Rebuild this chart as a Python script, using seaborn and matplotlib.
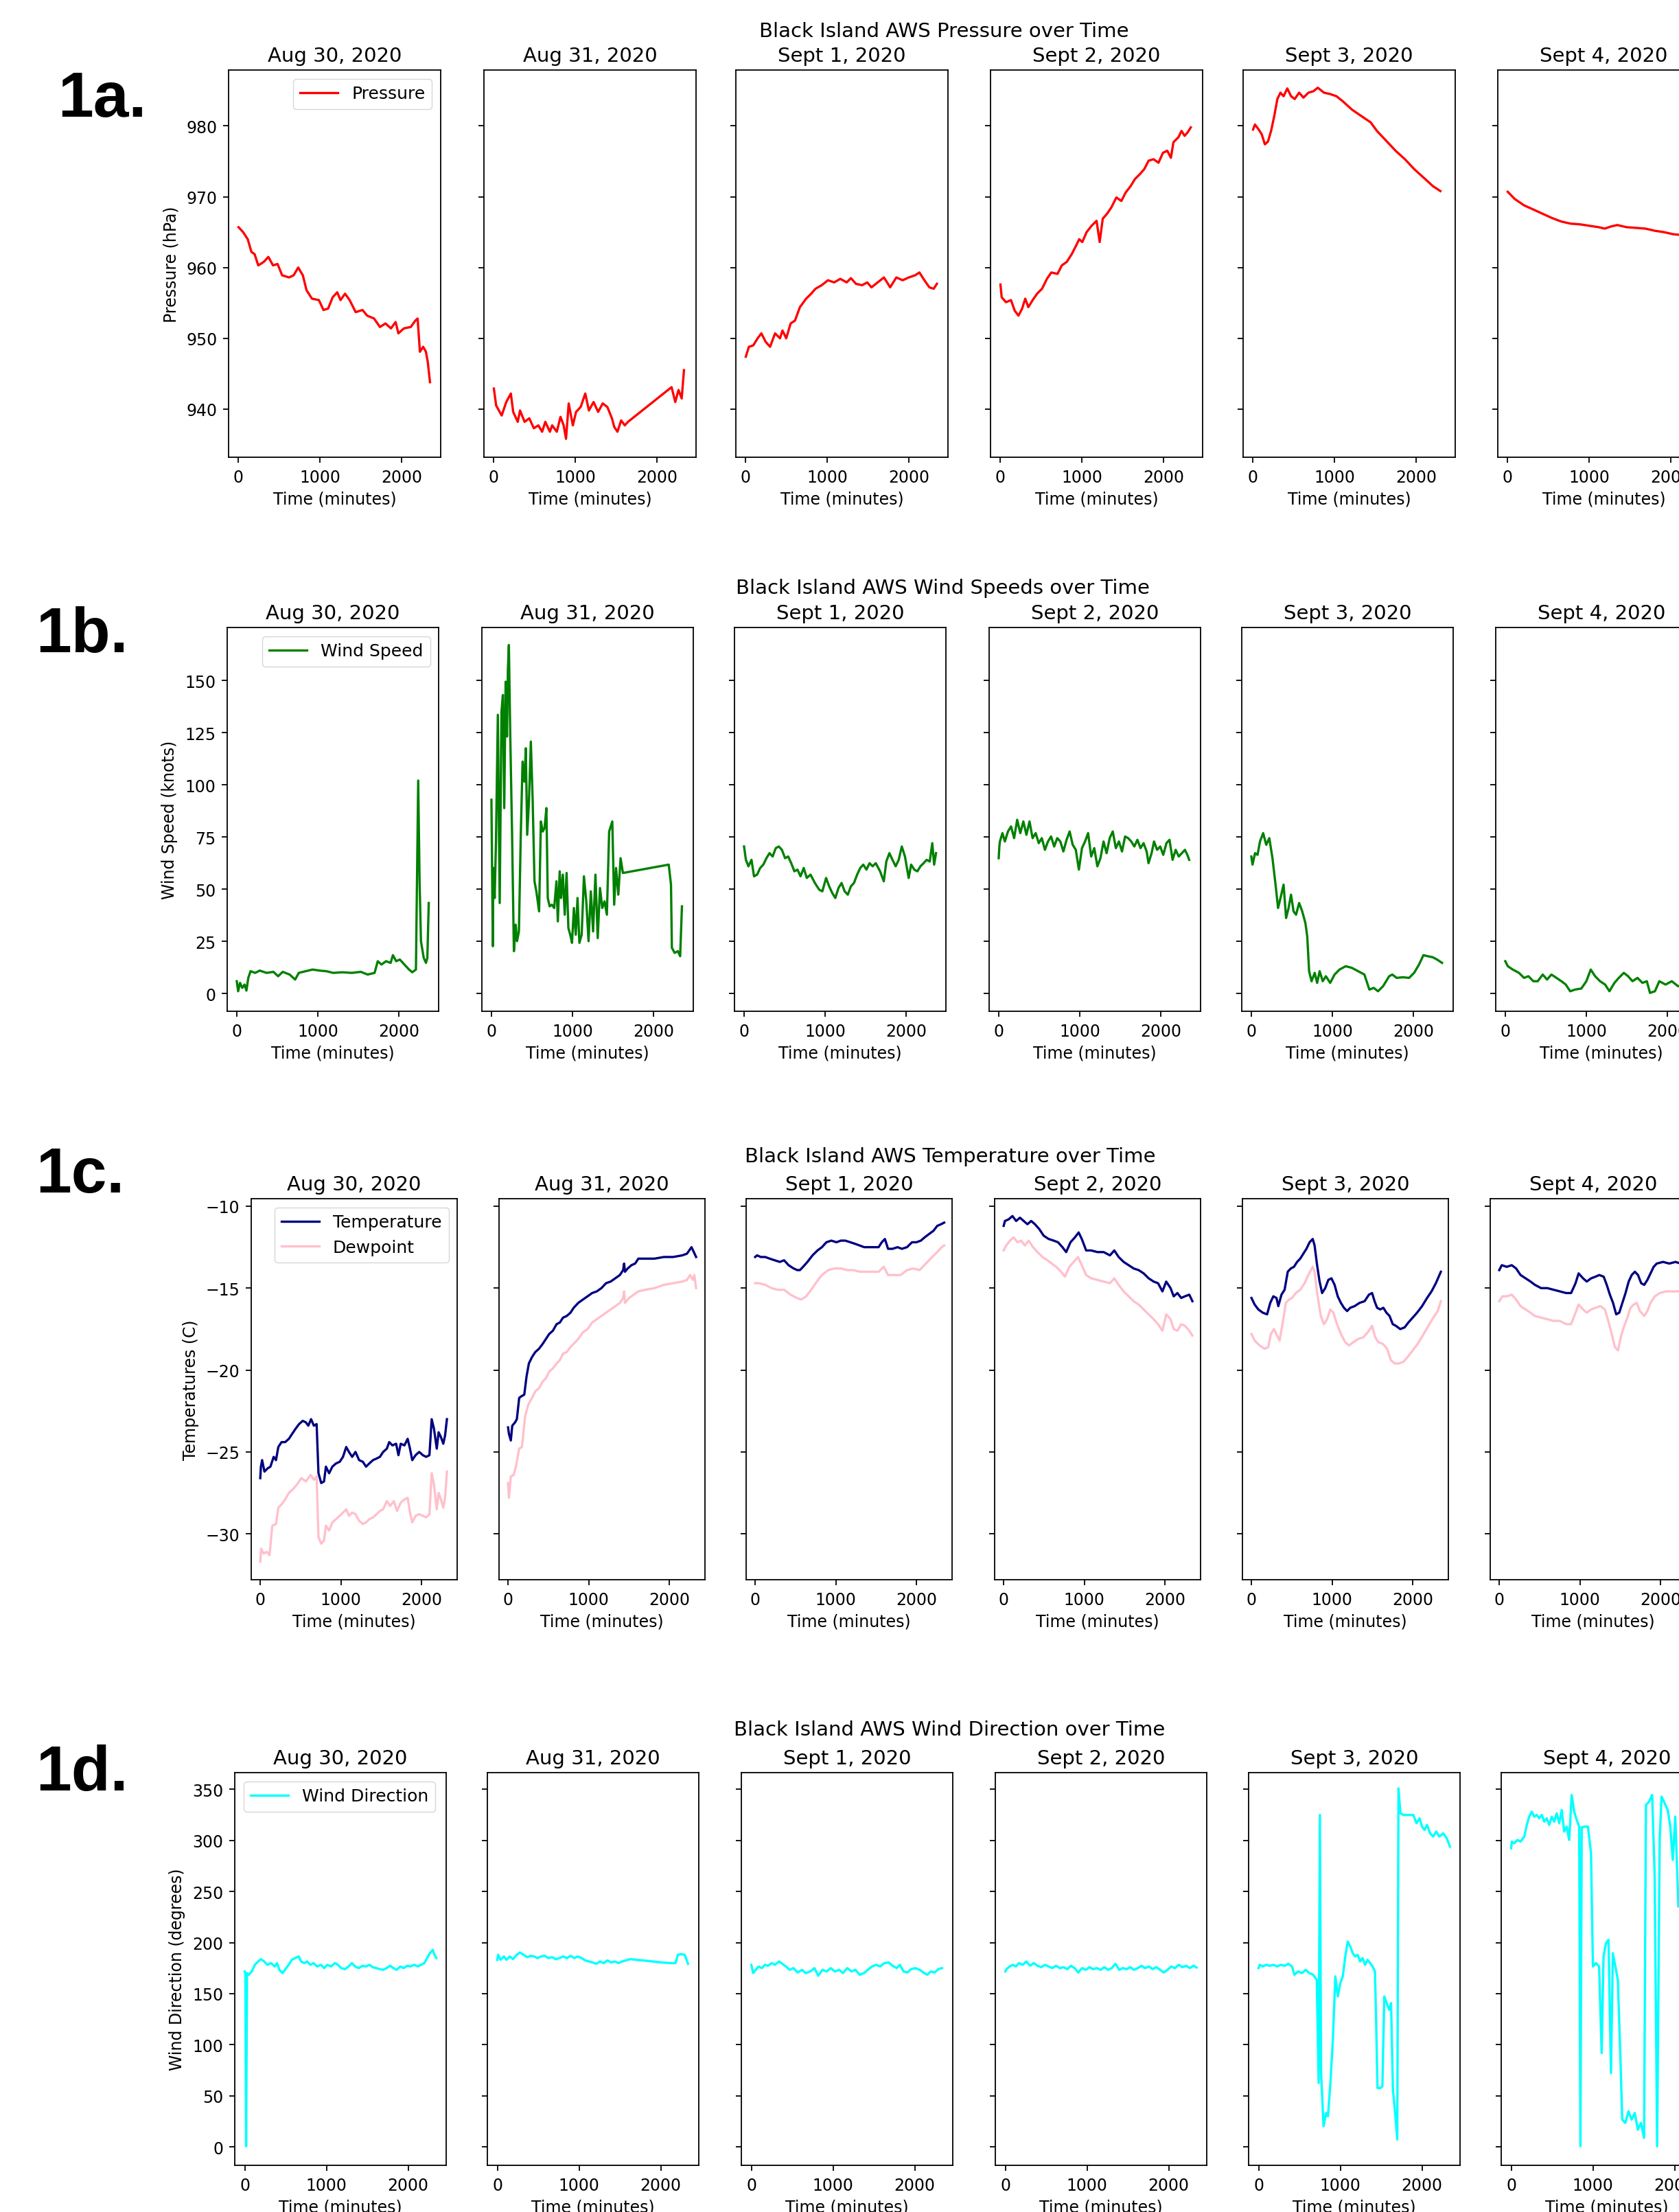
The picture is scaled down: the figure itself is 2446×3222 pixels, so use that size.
import matplotlib
matplotlib.use("Agg")
import matplotlib.pyplot as plt
import seaborn as sns

# ----------------------------
# Data: (minute, value) readings per day
# ----------------------------
DAYS = ["Aug 30, 2020", "Aug 31, 2020", "Sept 1, 2020",
        "Sept 2, 2020", "Sept 3, 2020", "Sept 4, 2020"]

# Pressure (hPa)
pres_aug30 = [(0, 965.7), (56, 965.0), (113, 964.0), (158, 962.2), (197, 961.9), (242, 960.3), (310, 960.8),
              (366, 961.5), (423, 960.3), (479, 960.5), (535, 958.9), (620, 958.6), (676, 958.9), (732, 960.0),
              (789, 958.9), (834, 956.8), (901, 955.6), (986, 955.4), (1042, 954.0), (1099, 954.2), (1155, 955.8),
              (1211, 956.5), (1251, 955.4), (1307, 956.3), (1363, 955.4), (1437, 953.7), (1521, 954.0),
              (1578, 953.2), (1662, 952.8), (1735, 951.6), (1803, 952.1), (1870, 951.4), (1927, 952.3),
              (1961, 950.7), (2028, 951.4), (2113, 951.6), (2169, 952.5), (2197, 952.8), (2225, 948.1),
              (2265, 948.8), (2299, 948.1), (2321, 946.7), (2349, 943.8)]
pres_aug31 = [(0, 942.9), (28, 940.5), (96, 939.1), (152, 941.0), (208, 942.2), (237, 939.6), (293, 938.2),
              (321, 939.8), (377, 938.2), (434, 938.7), (490, 937.3), (546, 937.7), (592, 936.8), (631, 938.2),
              (687, 936.8), (715, 937.7), (772, 936.8), (817, 938.9), (856, 937.7), (885, 935.8), (918, 940.8),
              (969, 937.7), (1008, 939.6), (1065, 940.3), (1121, 942.2), (1166, 939.8), (1223, 941.0),
              (1279, 939.6), (1335, 940.8), (1392, 940.3), (1448, 938.7), (1476, 937.5), (1516, 936.8),
              (1561, 938.4), (1606, 937.7), (1645, 938.2), (2180, 943.1), (2225, 941.0), (2265, 942.7),
              (2304, 941.5), (2332, 945.5)]
pres_sep1 = [(0, 947.4), (38, 948.8), (92, 949.0), (145, 950.0), (191, 950.7), (244, 949.5), (298, 948.8),
             (359, 950.7), (420, 950.0), (450, 951.1), (496, 950.0), (550, 952.1), (603, 952.5), (664, 954.4),
             (740, 955.6), (802, 956.3), (855, 957.0), (931, 957.5), (1008, 958.2), (1084, 957.9), (1160, 958.4),
             (1237, 957.9), (1290, 958.5), (1351, 957.7), (1428, 957.5), (1489, 957.9), (1542, 957.2),
             (1618, 957.9), (1695, 958.6), (1771, 957.2), (1847, 958.6), (1924, 958.2), (2000, 958.6),
             (2076, 958.9), (2130, 959.3), (2191, 958.2), (2252, 957.2), (2305, 957.0), (2344, 957.7)]
pres_sep2 = [(0, 957.6), (15, 955.8), (68, 955.1), (129, 955.4), (175, 953.9), (221, 953.2), (266, 954.2),
             (304, 955.6), (342, 954.4), (395, 955.4), (449, 956.3), (510, 957.0), (570, 958.4), (624, 959.3),
             (700, 959.1), (753, 960.3), (814, 960.8), (875, 961.9), (928, 963.1), (966, 964.0), (1004, 963.6),
             (1057, 965.0), (1118, 965.9), (1179, 966.6), (1217, 963.6), (1255, 966.9), (1308, 967.6),
             (1361, 968.5), (1422, 969.9), (1483, 969.4), (1536, 970.6), (1597, 971.5), (1650, 972.5),
             (1711, 973.2), (1764, 973.9), (1818, 975.1), (1878, 975.3), (1939, 974.8), (1993, 976.2),
             (2046, 976.5), (2091, 975.5), (2122, 977.7), (2183, 978.4), (2221, 979.3), (2259, 978.6),
             (2297, 979.1), (2335, 979.8)]
pres_sep3 = [(0, 979.5), (23, 980.2), (69, 979.5), (107, 978.8), (145, 977.4), (183, 977.8), (221, 979.3),
             (260, 981.4), (298, 983.8), (336, 984.7), (374, 984.2), (420, 985.3), (466, 984.2), (511, 983.8),
             (565, 984.7), (618, 984.0), (679, 984.7), (740, 984.9), (794, 985.4), (870, 984.7), (947, 984.5),
             (1023, 984.2), (1099, 983.5), (1214, 982.3), (1328, 981.4), (1443, 980.5), (1519, 979.3),
             (1634, 977.9), (1748, 976.5), (1863, 975.3), (1977, 973.9), (2092, 972.7), (2206, 971.5),
             (2298, 970.8)]
pres_sep4 = [(0, 970.7), (84, 969.7), (198, 968.8), (313, 968.2), (427, 967.6), (542, 967.0), (656, 966.5),
             (771, 966.2), (886, 966.1), (1000, 965.9), (1115, 965.7), (1191, 965.5), (1267, 965.8),
             (1344, 966.0), (1458, 965.7), (1573, 965.6), (1687, 965.5), (1802, 965.2), (1916, 965.0),
             (2031, 964.7), (2130, 964.6), (2250, 964.3)]

# Wind speed (knots)
wspd_aug30 = [(0, 5.9), (17, 1.1), (40, 5.1), (68, 2.7), (96, 4.3), (119, 1.4), (142, 7.5), (170, 10.7),
              (227, 9.9), (283, 11.0), (368, 9.9), (453, 10.4), (510, 8.3), (567, 10.4), (652, 9.1), (720, 6.7),
              (765, 9.9), (850, 10.7), (935, 11.5), (1020, 11.0), (1105, 10.7), (1190, 9.9), (1303, 10.2),
              (1417, 9.9), (1530, 10.4), (1615, 9.1), (1700, 9.9), (1739, 15.5), (1785, 13.9), (1841, 15.5),
              (1898, 14.7), (1926, 18.4), (1966, 15.5), (2011, 16.3), (2068, 13.9), (2125, 11.5), (2164, 10.2),
              (2210, 11.5), (2238, 102.1), (2255, 53.8), (2272, 25.1), (2306, 17.1), (2334, 14.7),
              (2351, 17.1), (2368, 43.4)]
wspd_aug31 = [(0, 92.9), (17, 22.7), (23, 60.2), (40, 45.8), (56, 72.9), (79, 133.6), (102, 43.4), (124, 135.2),
              (141, 143.1), (158, 88.9), (175, 149.5), (192, 123.2), (203, 155.1), (215, 167.1), (232, 124.0),
              (254, 77.7), (277, 20.3), (299, 33.0), (316, 25.1), (339, 29.8), (362, 76.1), (384, 111.2),
              (407, 101.6), (424, 117.6), (441, 76.1), (463, 92.1), (486, 120.8), (508, 93.7), (531, 53.8),
              (554, 49.0), (588, 39.4), (610, 82.5), (633, 77.7), (655, 79.3), (678, 88.9), (695, 45.8),
              (718, 41.8), (746, 42.6), (774, 41.0), (802, 53.8), (819, 34.6), (842, 58.6), (859, 45.8),
              (881, 57.0), (904, 37.8), (927, 57.8), (949, 31.4), (972, 28.2), (994, 24.3), (1017, 41.0),
              (1040, 28.2), (1062, 45.8), (1085, 24.3), (1113, 28.2), (1141, 56.2), (1170, 44.2), (1198, 25.1),
              (1226, 49.0), (1254, 29.8), (1283, 57.0), (1311, 26.6), (1339, 50.6), (1367, 41.0), (1395, 44.2),
              (1424, 37.8), (1452, 77.7), (1491, 82.5), (1514, 42.6), (1537, 60.2), (1565, 47.4), (1593, 64.9),
              (1622, 57.8), (2187, 61.8), (2215, 52.2), (2226, 21.9), (2260, 19.5), (2300, 20.3), (2328, 17.9),
              (2350, 41.8)]
wspd_sep1 = [(0, 70.5), (23, 64.1), (54, 61.0), (92, 64.1), (123, 56.2), (161, 57.0), (199, 60.2), (238, 61.8),
             (276, 64.9), (314, 67.3), (353, 65.7), (391, 69.7), (429, 70.5), (467, 68.9), (506, 64.9),
             (544, 65.7), (582, 62.5), (621, 58.6), (659, 59.4), (697, 56.2), (736, 60.2), (774, 55.4),
             (820, 57.0), (874, 53.0), (927, 49.8), (966, 49.0), (1012, 55.4), (1050, 51.4), (1088, 48.2),
             (1126, 45.8), (1165, 50.6), (1203, 53.0), (1241, 49.0), (1280, 47.4), (1318, 51.4), (1356, 53.0),
             (1395, 57.0), (1433, 60.2), (1471, 61.8), (1510, 59.4), (1548, 62.5), (1586, 61.0), (1625, 62.5),
             (1678, 58.6), (1724, 53.8), (1755, 63.3), (1793, 67.3), (1831, 64.1), (1870, 61.0), (1908, 64.1),
             (1946, 70.5), (1985, 65.7), (2031, 55.4), (2061, 61.8), (2100, 59.4), (2138, 58.6), (2176, 61.0),
             (2215, 62.5), (2253, 64.1), (2291, 63.3), (2322, 72.1), (2345, 61.8), (2368, 67.3)]
wspd_sep2 = [(0, 64.9), (8, 70.5), (15, 72.9), (46, 76.9), (76, 72.9), (114, 77.7), (152, 80.1), (190, 74.5),
             (228, 83.3), (266, 76.9), (304, 82.5), (342, 76.1), (380, 82.5), (418, 74.5), (456, 76.9),
             (494, 72.1), (532, 74.5), (570, 68.9), (608, 72.9), (646, 75.3), (684, 70.5), (722, 74.5),
             (760, 72.9), (798, 68.1), (837, 73.7), (875, 77.7), (913, 71.3), (951, 68.9), (989, 59.4),
             (1027, 69.7), (1065, 72.9), (1103, 76.9), (1141, 65.7), (1179, 69.7), (1217, 61.0), (1255, 64.9),
             (1293, 72.9), (1331, 67.3), (1369, 74.5), (1407, 77.7), (1445, 69.7), (1483, 72.9), (1521, 68.1),
             (1559, 75.3), (1597, 74.5), (1635, 72.9), (1673, 70.5), (1711, 73.7), (1749, 69.7), (1787, 72.1),
             (1825, 68.1), (1848, 62.5), (1886, 67.3), (1916, 72.9), (1954, 68.9), (1992, 70.5), (2030, 66.5),
             (2069, 72.1), (2107, 73.7), (2145, 64.1), (2183, 68.9), (2221, 65.7), (2259, 67.3), (2297, 68.9),
             (2327, 66.5), (2350, 64.1)]
wspd_sep3 = [(0, 65.7), (15, 61.8), (46, 67.3), (77, 66.5), (107, 72.9), (146, 76.9), (184, 71.3), (222, 74.5),
             (261, 64.9), (299, 52.2), (330, 41.0), (360, 45.8), (398, 52.2), (429, 36.2), (460, 41.0),
             (490, 47.4), (521, 39.4), (552, 37.8), (590, 43.4), (628, 39.4), (667, 33.8), (690, 27.4),
             (713, 10.7), (743, 5.9), (782, 9.9), (812, 5.1), (843, 10.7), (881, 5.9), (920, 8.3), (973, 5.1),
             (1027, 9.1), (1088, 11.5), (1165, 13.1), (1241, 12.3), (1318, 10.7), (1395, 9.1), (1456, 1.9),
             (1510, 2.7), (1563, 1.1), (1625, 3.5), (1663, 5.9), (1701, 8.3), (1739, 9.1), (1793, 7.5),
             (1870, 7.8), (1946, 7.5), (2008, 9.9), (2069, 13.9), (2123, 18.4), (2176, 17.9), (2238, 17.4),
             (2291, 16.3), (2353, 14.7)]
wspd_sep4 = [(0, 15.5), (31, 13.1), (92, 11.5), (169, 9.9), (231, 7.5), (285, 8.3), (346, 5.9), (400, 5.9),
             (462, 9.1), (515, 6.7), (569, 9.1), (631, 7.5), (692, 5.9), (746, 4.3), (800, 1.1), (861, 1.9),
             (938, 2.4), (1000, 5.9), (1054, 11.5), (1108, 8.3), (1169, 5.9), (1231, 4.3), (1285, 1.1),
             (1346, 5.1), (1400, 7.5), (1462, 9.9), (1515, 8.3), (1569, 5.9), (1631, 7.5), (1692, 5.1),
             (1746, 5.9), (1785, 0.3), (1846, 1.1), (1900, 5.9), (1977, 4.3), (2054, 5.9), (2131, 3.5),
             (2220, 4.5)]

# Temperature and dewpoint (C)
temp_aug30 = [(0, -26.6), (8, -25.9), (23, -25.5), (52, -26.2), (92, -26.0), (126, -25.9), (166, -25.3),
              (195, -25.5), (224, -24.7), (264, -24.4), (309, -24.4), (355, -24.2), (395, -23.9), (436, -23.6),
              (481, -23.3), (527, -23.1), (567, -23.2), (596, -23.4), (630, -23.0), (665, -23.4), (699, -23.3),
              (722, -26.3), (756, -26.9), (791, -26.8), (814, -25.9), (854, -26.3), (894, -25.9), (940, -25.7),
              (986, -25.6), (1026, -25.3), (1066, -24.7), (1100, -25.0), (1140, -25.3), (1181, -25.0),
              (1226, -25.5), (1272, -25.6), (1312, -25.9), (1353, -25.7), (1398, -25.5), (1444, -25.4),
              (1484, -25.3), (1524, -25.0), (1570, -24.8), (1599, -24.4), (1639, -24.6), (1685, -24.5),
              (1714, -25.2), (1742, -24.5), (1788, -24.6), (1828, -24.2), (1857, -24.8), (1885, -25.5),
              (1926, -25.2), (1971, -25.0), (2017, -25.2), (2057, -25.3), (2098, -25.2), (2126, -23.0),
              (2155, -23.6), (2189, -24.8), (2212, -23.8), (2241, -24.1), (2270, -24.5), (2292, -24.0),
              (2315, -23.0)]
dew_aug30 = [(0, -31.7), (11, -30.9), (40, -31.2), (80, -31.1), (115, -31.3), (149, -29.5), (195, -29.4),
             (224, -28.4), (264, -28.2), (309, -27.9), (355, -27.5), (401, -27.3), (453, -27.0), (510, -26.6),
             (567, -26.8), (625, -26.4), (665, -26.7), (699, -26.5), (722, -30.2), (756, -30.6), (791, -30.4),
             (814, -29.5), (854, -29.8), (894, -29.3), (940, -29.1), (986, -28.9), (1026, -28.7), (1066, -28.5),
             (1100, -28.9), (1140, -28.7), (1181, -28.8), (1226, -29.2), (1272, -29.4), (1312, -29.3),
             (1353, -29.1), (1398, -29.0), (1444, -28.8), (1484, -28.6), (1524, -28.5), (1570, -28.0),
             (1610, -28.3), (1656, -28.0), (1696, -28.6), (1742, -28.1), (1788, -27.9), (1828, -27.8),
             (1857, -28.7), (1885, -29.3), (1926, -28.9), (1971, -28.8), (2017, -28.9), (2057, -29.0),
             (2098, -28.8), (2126, -26.3), (2155, -27.0), (2189, -28.5), (2212, -27.5), (2241, -27.9),
             (2270, -28.4), (2292, -27.8), (2315, -26.2)]
temp_aug31 = [(0, -23.5), (11, -23.9), (34, -24.3), (52, -23.4), (86, -23.2), (109, -23.0), (138, -21.7),
              (166, -21.6), (201, -21.5), (229, -20.4), (258, -19.6), (298, -19.2), (338, -18.9), (384, -18.7),
              (430, -18.4), (470, -18.1), (510, -17.8), (556, -17.6), (602, -17.2), (642, -17.1), (682, -16.8),
              (728, -16.7), (774, -16.5), (814, -16.2), (871, -15.9), (928, -15.7), (986, -15.5), (1043, -15.3),
              (1100, -15.2), (1158, -15.0), (1215, -14.7), (1272, -14.6), (1330, -14.4), (1387, -14.2),
              (1427, -13.9), (1439, -13.5), (1450, -14.0), (1484, -13.8), (1530, -13.6), (1576, -13.5),
              (1616, -13.2), (1702, -13.2), (1817, -13.2), (1931, -13.1), (2046, -13.1), (2161, -13.0),
              (2218, -12.9), (2247, -12.7), (2275, -12.5), (2304, -12.8), (2332, -13.1)]
dew_aug31 = [(0, -26.9), (11, -27.8), (34, -26.5), (69, -26.4), (97, -25.9), (138, -24.8), (172, -24.7),
             (212, -22.8), (252, -22.1), (298, -21.7), (338, -21.3), (384, -21.1), (430, -20.7), (470, -20.5),
             (510, -20.1), (556, -19.9), (602, -19.6), (642, -19.4), (682, -19.0), (728, -18.9), (774, -18.6),
             (814, -18.4), (871, -18.1), (928, -17.7), (986, -17.5), (1043, -17.1), (1100, -16.9), (1158, -16.7),
             (1215, -16.5), (1272, -16.3), (1330, -16.1), (1387, -15.9), (1427, -15.6), (1439, -15.2),
             (1450, -15.9), (1502, -15.6), (1559, -15.4), (1616, -15.2), (1702, -15.1), (1817, -15.0),
             (1931, -14.8), (2046, -14.7), (2161, -14.6), (2218, -14.5), (2258, -14.2), (2292, -14.5),
             (2310, -14.2), (2332, -15.0)]
temp_sep1 = [(0, -13.1), (23, -13.0), (70, -13.1), (125, -13.1), (180, -13.2), (242, -13.3), (305, -13.4),
             (359, -13.3), (414, -13.6), (477, -13.8), (523, -13.9), (555, -13.9), (594, -13.7), (648, -13.4),
             (711, -13.0), (773, -12.7), (828, -12.5), (883, -12.2), (945, -12.1), (1008, -12.2), (1063, -12.1),
             (1117, -12.1), (1180, -12.2), (1242, -12.3), (1297, -12.4), (1352, -12.5), (1414, -12.5),
             (1477, -12.5), (1531, -12.5), (1570, -12.2), (1609, -12.0), (1648, -12.6), (1703, -12.6),
             (1766, -12.5), (1820, -12.6), (1883, -12.5), (1945, -12.2), (2000, -12.2), (2055, -12.1),
             (2102, -11.9), (2156, -11.7), (2211, -11.5), (2258, -11.2), (2305, -11.1), (2344, -11.0)]
dew_sep1 = [(0, -14.7), (47, -14.7), (125, -14.8), (203, -15.0), (281, -15.1), (359, -15.1), (438, -15.4),
            (516, -15.6), (570, -15.7), (633, -15.5), (695, -15.1), (750, -14.7), (828, -14.2), (906, -13.9),
            (984, -13.8), (1063, -13.8), (1141, -13.9), (1219, -13.9), (1297, -14.0), (1375, -14.0),
            (1453, -14.0), (1531, -14.0), (1594, -13.7), (1648, -14.2), (1727, -14.2), (1805, -14.2),
            (1883, -13.9), (1961, -13.8), (2039, -13.9), (2117, -13.5), (2195, -13.1), (2258, -12.8),
            (2313, -12.5), (2344, -12.4)]
temp_sep2 = [(0, -11.2), (16, -10.9), (62, -10.8), (109, -10.6), (155, -10.9), (202, -10.7), (248, -10.9),
             (295, -11.1), (341, -10.9), (388, -11.1), (442, -11.4), (496, -11.8), (558, -12.0), (620, -12.1),
             (674, -12.2), (729, -12.5), (775, -12.8), (829, -12.2), (884, -11.9), (930, -11.6), (969, -12.0),
             (1023, -12.7), (1085, -12.7), (1163, -12.8), (1240, -12.8), (1318, -13.0), (1372, -12.7),
             (1426, -13.1), (1488, -13.4), (1550, -13.6), (1612, -13.8), (1674, -13.9), (1736, -14.1),
             (1798, -14.4), (1860, -14.6), (1915, -14.7), (1969, -15.2), (2016, -14.6), (2070, -15.0),
             (2109, -15.5), (2155, -15.3), (2202, -15.6), (2248, -15.5), (2302, -15.4), (2341, -15.8)]
dew_sep2 = [(0, -12.7), (31, -12.4), (78, -12.1), (124, -11.9), (171, -12.2), (217, -12.1), (264, -12.4),
            (310, -12.1), (364, -12.5), (419, -12.8), (481, -13.1), (543, -13.3), (597, -13.5), (651, -13.7),
            (713, -14.0), (760, -14.3), (814, -13.7), (868, -13.4), (922, -13.1), (969, -13.6), (1023, -14.2),
            (1085, -14.4), (1163, -14.5), (1240, -14.6), (1318, -14.7), (1372, -14.4), (1426, -14.8),
            (1488, -15.2), (1550, -15.5), (1612, -15.8), (1674, -16.0), (1736, -16.3), (1798, -16.6),
            (1860, -16.9), (1915, -17.2), (1969, -17.6), (2016, -16.6), (2070, -16.9), (2109, -17.5),
            (2155, -17.6), (2202, -17.2), (2248, -17.3), (2302, -17.6), (2341, -17.9)]
temp_sep3 = [(0, -15.6), (39, -16.0), (85, -16.3), (140, -16.5), (194, -16.6), (233, -15.9), (271, -15.5),
             (310, -15.6), (333, -16.1), (372, -15.4), (411, -15.1), (450, -14.0), (488, -13.8), (527, -13.7),
             (566, -13.4), (605, -13.2), (643, -12.9), (682, -12.6), (721, -12.2), (760, -12.0), (783, -12.4),
             (814, -13.6), (845, -14.6), (876, -15.3), (915, -15.0), (953, -14.5), (992, -14.4), (1031, -14.8),
             (1070, -15.5), (1109, -15.9), (1147, -16.2), (1186, -16.4), (1225, -16.2), (1279, -16.1),
             (1341, -15.9), (1403, -15.8), (1457, -15.4), (1496, -15.3), (1527, -15.8), (1558, -16.2),
             (1597, -16.3), (1636, -16.2), (1674, -16.5), (1713, -16.7), (1752, -17.2), (1791, -17.3),
             (1845, -17.5), (1899, -17.4), (1946, -17.1), (2000, -16.8), (2054, -16.5), (2116, -16.1),
             (2178, -15.6), (2233, -15.2), (2287, -14.7), (2349, -14.0)]
dew_sep3 = [(0, -17.8), (39, -18.2), (101, -18.5), (163, -18.7), (209, -18.6), (240, -17.8), (279, -17.5),
            (318, -17.9), (349, -18.2), (388, -17.1), (426, -15.9), (465, -15.7), (504, -15.6), (550, -15.3),
            (605, -15.1), (659, -14.7), (705, -14.2), (760, -13.7), (783, -14.0), (814, -15.3), (860, -16.7),
            (899, -17.2), (938, -16.9), (977, -16.3), (1016, -16.5), (1054, -17.1), (1109, -17.8),
            (1163, -18.3), (1209, -18.5), (1264, -18.3), (1326, -18.1), (1388, -18.0), (1442, -17.7),
            (1496, -17.3), (1535, -18.0), (1574, -18.3), (1628, -18.4), (1682, -18.7), (1729, -19.4),
            (1776, -19.6), (1830, -19.6), (1884, -19.5), (1938, -19.2), (2000, -18.8), (2062, -18.4),
            (2124, -17.9), (2194, -17.3), (2256, -16.8), (2310, -16.4), (2349, -15.8)]
temp_sep4 = [(0, -13.9), (31, -13.6), (93, -13.7), (155, -13.6), (209, -13.8), (264, -14.2), (326, -14.4),
             (388, -14.6), (442, -14.8), (519, -15.0), (597, -15.0), (674, -15.1), (752, -15.2), (829, -15.3),
             (891, -15.3), (946, -14.7), (984, -14.1), (1039, -14.4), (1085, -14.6), (1140, -14.4),
             (1194, -14.3), (1240, -14.2), (1295, -14.3), (1333, -14.8), (1372, -15.4), (1411, -15.9),
             (1450, -16.6), (1488, -16.5), (1527, -15.9), (1566, -15.3), (1605, -14.6), (1643, -14.2),
             (1682, -14.0), (1721, -14.2), (1760, -14.7), (1798, -14.8), (1837, -14.5), (1876, -14.1),
             (1915, -13.7), (1953, -13.5), (2031, -13.4), (2109, -13.5), (2186, -13.4), (2248, -13.5)]
dew_sep4 = [(0, -15.8), (39, -15.5), (93, -15.5), (155, -15.4), (209, -15.7), (264, -16.1), (326, -16.3),
            (388, -16.5), (442, -16.7), (519, -16.8), (597, -16.9), (674, -17.0), (752, -17.0), (829, -17.2),
            (891, -17.2), (946, -16.5), (984, -16.0), (1039, -16.3), (1085, -16.5), (1140, -16.3),
            (1194, -16.2), (1256, -16.1), (1310, -16.3), (1357, -17.1), (1395, -17.8), (1434, -18.6),
            (1473, -18.8), (1512, -17.9), (1550, -17.3), (1589, -16.8), (1628, -16.2), (1667, -16.0),
            (1705, -15.9), (1744, -16.4), (1798, -16.7), (1837, -16.4), (1876, -15.9), (1930, -15.5),
            (1992, -15.3), (2070, -15.2), (2147, -15.2), (2225, -15.2)]

# Wind direction (degrees)
wdir_aug30 = [(0, 171.7), (8, 170.1), (17, 0.7), (28, 170.1), (51, 168.5), (85, 171.7), (124, 178.2),
              (164, 181.5), (198, 183.8), (237, 181.5), (277, 178.2), (322, 179.9), (367, 176.6), (396, 179.9),
              (424, 173.3), (463, 170.1), (492, 173.3), (537, 178.2), (576, 183.1), (616, 184.8), (661, 186.4),
              (689, 181.5), (729, 179.9), (763, 181.5), (802, 178.2), (842, 179.9), (887, 176.6), (932, 178.2),
              (972, 175.0), (1011, 178.2), (1057, 176.6), (1102, 179.9), (1141, 178.2), (1181, 175.0),
              (1226, 174.0), (1271, 176.6), (1311, 179.9), (1350, 176.6), (1396, 175.0), (1441, 177.3),
              (1480, 176.6), (1526, 178.2), (1565, 175.9), (1610, 175.0), (1650, 174.0), (1695, 173.3),
              (1735, 175.0), (1780, 177.3), (1819, 175.0), (1859, 173.3), (1904, 176.6), (1944, 175.0),
              (1989, 177.3), (2028, 176.6), (2074, 178.2), (2119, 176.6), (2158, 178.2), (2198, 179.9),
              (2232, 184.8), (2266, 189.6), (2300, 192.9), (2322, 188.0), (2345, 184.8)]
wdir_aug31 = [(0, 183.1), (11, 188.0), (39, 183.1), (79, 186.4), (113, 183.1), (152, 186.4), (192, 183.8),
              (237, 188.0), (276, 190.3), (321, 188.0), (366, 185.7), (406, 187.0), (451, 186.4), (490, 184.8),
              (535, 186.4), (580, 187.0), (625, 184.8), (670, 185.7), (716, 183.8), (761, 184.8), (806, 186.4),
              (851, 184.8), (896, 187.0), (941, 184.8), (986, 186.4), (1031, 184.8), (1076, 182.5),
              (1121, 181.5), (1166, 180.5), (1211, 179.2), (1256, 181.5), (1301, 179.9), (1347, 182.5),
              (1392, 180.5), (1437, 181.5), (1482, 179.9), (1527, 181.5), (1572, 182.5), (1628, 183.8),
              (1701, 183.1), (1786, 182.5), (1899, 181.5), (2011, 180.5), (2124, 179.9), (2180, 179.9),
              (2209, 188.0), (2248, 188.7), (2293, 188.0), (2316, 183.1), (2333, 179.2)]
wdir_sep1 = [(0, 178.2), (23, 170.1), (53, 173.3), (91, 176.6), (129, 175.0), (167, 178.2), (205, 177.3),
             (250, 179.9), (288, 178.2), (341, 181.5), (379, 179.2), (424, 176.6), (470, 173.3), (515, 175.0),
             (568, 170.7), (621, 173.3), (667, 170.1), (720, 171.7), (773, 175.0), (818, 167.5), (871, 173.3),
             (924, 171.7), (970, 175.0), (1023, 171.7), (1076, 173.3), (1121, 170.1), (1174, 175.0),
             (1227, 171.7), (1273, 173.3), (1326, 168.5), (1379, 170.1), (1424, 173.3), (1477, 176.6),
             (1530, 178.2), (1576, 176.6), (1629, 179.9), (1682, 180.5), (1727, 177.3), (1780, 175.0),
             (1818, 178.2), (1864, 171.7), (1909, 170.7), (1955, 174.0), (2008, 175.0), (2061, 173.3),
             (2106, 170.7), (2152, 168.5), (2197, 171.7), (2242, 170.7), (2288, 174.0), (2333, 175.0)]
wdir_sep2 = [(0, 171.7), (15, 174.0), (53, 176.6), (91, 178.2), (129, 176.6), (167, 179.9), (212, 178.2),
             (258, 181.5), (303, 177.3), (348, 179.9), (394, 177.3), (439, 175.9), (485, 178.2), (530, 176.6),
             (576, 175.0), (621, 177.3), (667, 175.0), (712, 175.9), (758, 174.0), (803, 177.3), (848, 175.0),
             (894, 170.7), (939, 175.0), (985, 173.3), (1030, 175.9), (1076, 174.0), (1121, 175.0),
             (1167, 173.3), (1212, 175.9), (1258, 173.3), (1303, 175.0), (1348, 179.2), (1394, 173.3),
             (1439, 175.0), (1485, 174.0), (1530, 175.9), (1576, 173.3), (1621, 175.0), (1667, 177.3),
             (1712, 175.0), (1758, 176.6), (1803, 174.0), (1848, 175.9), (1894, 173.3), (1939, 170.7),
             (1985, 173.3), (2030, 176.6), (2076, 175.0), (2121, 178.2), (2167, 175.9), (2212, 177.3),
             (2258, 175.0), (2303, 177.3), (2341, 175.6)]
wdir_sep3 = [(0, 175.0), (15, 178.2), (53, 176.6), (91, 178.2), (136, 177.3), (182, 178.2), (227, 176.6),
             (273, 178.2), (318, 177.3), (364, 179.2), (409, 176.6), (439, 168.5), (485, 171.7), (530, 170.1),
             (576, 173.3), (621, 170.1), (667, 168.5), (712, 163.6), (735, 62.6), (750, 324.9), (765, 72.3),
             (795, 20.2), (826, 33.2), (849, 30.0), (879, 62.6), (909, 104.9), (939, 166.8), (970, 147.3),
             (1000, 160.3), (1030, 166.8), (1061, 186.4), (1091, 201.0), (1121, 196.2), (1152, 189.6),
             (1182, 186.4), (1212, 188.0), (1242, 181.5), (1273, 184.8), (1303, 178.2), (1333, 183.1),
             (1364, 179.9), (1394, 176.6), (1424, 171.7), (1439, 121.2), (1455, 57.7), (1492, 57.7),
             (1515, 59.3), (1538, 147.3), (1568, 140.8), (1598, 134.2), (1621, 140.8), (1644, 56.0),
             (1667, 36.5), (1697, 7.2), (1712, 350.9), (1735, 326.5), (1773, 324.9), (1833, 324.9),
             (1894, 324.9), (1932, 316.7), (1970, 321.6), (2000, 313.5), (2030, 310.2), (2061, 315.1),
             (2099, 306.9), (2136, 303.7), (2174, 308.6), (2212, 303.7), (2258, 306.9), (2303, 302.1),
             (2341, 293.9)]
wdir_sep4 = [(0, 292.3), (8, 298.8), (38, 297.2), (76, 300.4), (115, 298.8), (160, 303.7), (191, 315.1),
             (221, 323.2), (252, 328.1), (282, 323.2), (313, 324.9), (344, 321.6), (374, 324.9), (405, 318.3),
             (435, 321.6), (466, 315.1), (496, 323.2), (527, 318.3), (557, 326.5), (588, 316.7), (618, 329.7),
             (649, 308.6), (679, 313.5), (710, 300.4), (740, 344.4), (771, 328.1), (802, 320.0), (832, 313.5),
             (847, 0.7), (863, 312.8), (901, 313.5), (939, 313.5), (977, 287.4), (1000, 176.6), (1038, 179.9),
             (1076, 176.6), (1107, 91.9), (1130, 186.4), (1160, 199.4), (1191, 202.7), (1221, 72.3),
             (1244, 189.6), (1275, 176.6), (1305, 163.6), (1336, 88.6), (1359, 26.7), (1397, 23.5),
             (1435, 34.9), (1473, 26.7), (1512, 33.2), (1550, 16.9), (1588, 23.5), (1626, 8.8), (1649, 334.6),
             (1687, 337.9), (1725, 344.4), (1756, 264.6), (1786, 0.7), (1817, 300.4), (1840, 342.8),
             (1878, 336.3), (1916, 329.7), (1947, 313.5), (1977, 280.9), (2008, 323.2), (2046, 235.3)]

# ----------------------------
# Layout (pixels in the 2446 x 3223 canvas)
# ----------------------------
W, H = 2446, 3223
LW = 2.4
TICK_FS, TITLE_FS, LABEL_FS = 17, 21, 17

plt.rcParams.update({
    "axes.linewidth": 1.3,
    "xtick.major.size": 6, "ytick.major.size": 6,
    "xtick.major.width": 1.3, "ytick.major.width": 1.3,
    "xtick.major.pad": 6, "ytick.major.pad": 6,
    "xtick.labelsize": TICK_FS, "ytick.labelsize": TICK_FS,
    "legend.fontsize": 18,
})

rows = [
    dict(tag="1a.", tag_xy=(84, 170), sup="Black Island AWS Pressure over Time", sup_xy=(1375, 46),
         top=103, bottom=667, lefts=[333, 705, 1072, 1443, 1811, 2182], width=309,
         ylabel="Pressure (hPa)", ylim=(933.2, 987.9), yticks=[940, 950, 960, 970, 980], xlim=(-122, 2480),
         series=[[pres_aug30], [pres_aug31], [pres_sep1], [pres_sep2], [pres_sep3], [pres_sep4]],
         colors=["red"], labels=["Pressure"], loc="upper right"),
    dict(tag="1b.", tag_xy=(52, 950), sup="Black Island AWS Wind Speeds over Time", sup_xy=(1373, 857),
         top=915, bottom=1474, lefts=[331, 702, 1070, 1441, 1809, 2179], width=308,
         ylabel="Wind Speed (knots)", ylim=(-8.5, 175.5), yticks=[0, 25, 50, 75, 100, 125, 150],
         xlim=(-118, 2490),
         series=[[wspd_aug30], [wspd_aug31], [wspd_sep1], [wspd_sep2], [wspd_sep3], [wspd_sep4]],
         colors=["green"], labels=["Wind Speed"], loc="upper right"),
    dict(tag="1c.", tag_xy=(52, 1737), sup="Black Island AWS Temperature over Time", sup_xy=(1384, 1685),
         top=1747, bottom=2302, lefts=[366, 727, 1087, 1449, 1810, 2171], width=300,
         ylabel="Temperatures (C)", ylim=(-32.8, -9.54), yticks=[-30, -25, -20, -15, -10], xlim=(-112, 2442),
         series=[[temp_aug30, dew_aug30], [temp_aug31, dew_aug31], [temp_sep1, dew_sep1],
                 [temp_sep2, dew_sep2], [temp_sep3, dew_sep3], [temp_sep4, dew_sep4]],
         colors=["navy", "pink"], labels=["Temperature", "Dewpoint"], loc="upper right"),
    dict(tag="1d.", tag_xy=(52, 2608), sup="Black Island AWS Wind Direction over Time", sup_xy=(1383, 2520),
         top=2583, bottom=3155, lefts=[342, 710, 1080, 1450, 1819, 2187], width=308,
         ylabel="Wind Direction (degrees)", ylim=(-18, 366.3), yticks=[0, 50, 100, 150, 200, 250, 300, 350],
         xlim=(-122, 2465),
         series=[[wdir_aug30], [wdir_aug31], [wdir_sep1], [wdir_sep2], [wdir_sep3], [wdir_sep4]],
         colors=["cyan"], labels=["Wind Direction"], loc="upper left"),
]

fig = plt.figure(figsize=(W / 100, H / 100), dpi=100)

for row in rows:
    h = row["bottom"] - row["top"]
    for i, left in enumerate(row["lefts"]):
        ax = fig.add_axes([left / W, 1 - row["bottom"] / H, row["width"] / W, h / H])
        for pairs, color, label in zip(row["series"][i], row["colors"], row["labels"]):
            t = [p[0] for p in pairs]
            v = [p[1] for p in pairs]
            sns.lineplot(x=t, y=v, ax=ax, color=color, linewidth=LW, estimator=None, sort=False,
                         label=label if i == 0 else None, legend=False)
        ax.set_xlim(*row["xlim"])
        ax.set_ylim(*row["ylim"])
        ax.set_xticks([0, 1000, 2000])
        ax.set_yticks(row["yticks"])
        ax.set_xlabel("Time (minutes)", fontsize=LABEL_FS, labelpad=6)
        ax.set_title(DAYS[i], fontsize=TITLE_FS, pad=9)
        if i == 0:
            ax.set_ylabel(row["ylabel"], fontsize=LABEL_FS, labelpad=7)
            ax.legend(loc=row["loc"], handlelength=2.2)
        else:
            ax.set_ylabel("")
            ax.tick_params(labelleft=False)
    sx, sy = row["sup_xy"]
    fig.text(sx / W, 1 - sy / H, row["sup"], ha="center", va="center", fontsize=TITLE_FS)
    tx, ty = row["tag_xy"]
    fig.text(tx / W, 1 - ty / H, row["tag"], ha="left", va="baseline", fontsize=67,
             fontweight="bold", family="Liberation Sans")

fig.savefig("out.png", dpi=100)
